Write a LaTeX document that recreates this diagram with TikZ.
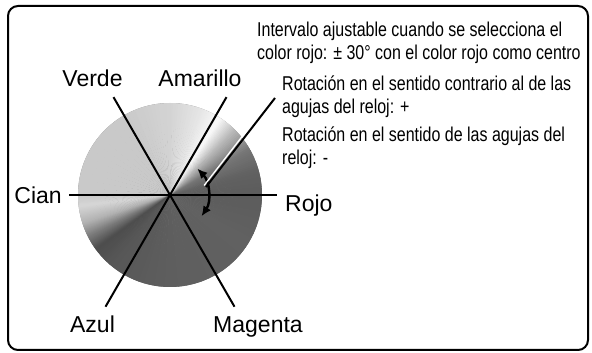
\documentclass[tikz,border=0pt]{standalone}
\usepackage{fontspec}
\setmainfont{Liberation Sans}
\newfontfamily\narrowfont{Liberation Sans}[FakeStretch=0.8]
\usetikzlibrary{arrows.meta,calc}

\tikzset{
  axis/.style={line width=2pt},
  lbl/.style={inner sep=0pt,font=\fontsize{23}{27}\selectfont},
  note/.style={inner sep=0pt,anchor=north west,align=left,
    font=\narrowfont\fontsize{20}{22.5}\selectfont},
  rangetip/.tip={Latex[length=10pt,width=9pt]}
}

\begin{document}
\begin{tikzpicture}[x=1pt,y=1pt]
\useasboundingbox (0,0) rectangle (592,353);

% Frame
\draw[line width=2pt,rounded corners=10pt] (8,3) rectangle (588,347);

% Colour wheel (grey conic shading)
\coordinate (ctr) at (170,158);
\fill[white!50!black] (ctr) circle (92);
\foreach \a/\b/\ga/\gb in {0/15/36/38, 15/30/38/46, 30/45/46/72, 45/57/72/98,
  57/70/98/90, 70/90/90/83, 90/120/83/79, 120/180/79/79, 180/187/79/84,
  187/198/84/70, 198/207/70/48, 207/216/48/30, 216/230/30/34, 230/270/34/37,
  270/330/37/38, 330/360/38/36}
{
  \foreach \t in {0,...,11}
  {
    \pgfmathsetmacro\s{\a+(\b-\a)*\t/12}
    \pgfmathsetmacro\e{\a+(\b-\a)*(\t+1)/12+0.4}
    \pgfmathsetmacro\g{\ga+(\gb-\ga)*(\t+0.5)/12}
    \fill[white!\g!black] (ctr) -- ++(\s:92) arc[start angle=\s,end angle=\e,radius=92] -- cycle;
  }
}

% Axes
\coordinate (cian) at (69,158);
\coordinate (rojo) at (277,158);
\coordinate (verde) at ($(ctr)+(120:113)$);
\coordinate (amar) at ($(ctr)+(60:113)$);
\coordinate (azul) at ($(ctr)+(240:129)$);
\coordinate (mag) at ($(ctr)+(300:129)$);
\draw[axis] (cian) -- (rojo);
\draw[axis] (verde) -- (mag);
\draw[axis] (amar) -- (azul);

% Labels
\node[lbl,anchor=base] (tverde) at (92.5,266) {Verde};
\node[lbl,anchor=base] (tamar) at (200,266) {Amarillo};
\node[lbl,anchor=base east] (tcian) at (62,149) {Cian};
\node[lbl,anchor=base west] (trojo) at (285,141) {Rojo};
\node[lbl,anchor=base] (tazul) at (92.5,20) {Azul};
\node[lbl,anchor=base] (tmag) at (258,20) {Magenta};

% Adjustment range
\draw[line width=2.4pt,{rangetip}-{rangetip}]
  ($(ctr)+(44:38)$) arc[start angle=44,end angle=-34,radius=38];

% Pointer
\coordinate (pa) at (206,166);
\coordinate (pb) at (275,255);
\draw[white,line width=1.3pt] ($(pa)+(-1.9,1.5)$) -- ($(pb)+(-1.9,1.5)$);
\draw[line width=2pt] (pa) -- (pb);

% Notes
\node[note] (n1) at (257,331) {Intervalo ajustable cuando se selecciona el\\color rojo: ± 30° con el color rojo como centro};
\node[note] (n2) at (282,277) {Rotación en el sentido contrario al de las\\agujas del reloj: +};
\node[note] (n3) at (282,226) {Rotación en el sentido de las agujas del\\reloj: -};

\end{tikzpicture}
\end{document}
